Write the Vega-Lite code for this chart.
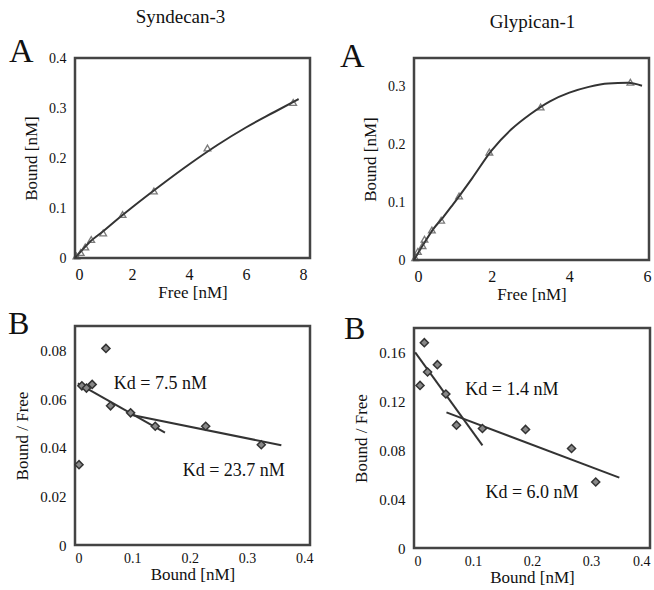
{
  "$schema": "https://vega.github.io/schema/vega-lite/v6.json",
  "background": "white",
  "padding": {"left": 6, "top": 7, "right": 5, "bottom": 0},
  "config": {
    "view": {"stroke": "#444", "strokeWidth": 2.5},
    "font": "Liberation Serif, Times New Roman, DejaVu Serif, serif",
    "axis": {"grid": false, "domain": false, "ticks": false, "labelFont": "Liberation Serif, Times New Roman, DejaVu Serif, serif", "labelFontSize": 15, "labelColor": "#111", "titleFont": "Liberation Serif, Times New Roman, DejaVu Serif, serif", "titleFontSize": 17, "titleFontWeight": "normal", "titleColor": "#111", "format": "~g"},
    "axisY": {"labelPadding": 9, "titlePadding": 8},
    "axisX": {"labelPadding": 8, "titlePadding": 2},
    "title": {"font": "Liberation Serif, Times New Roman, DejaVu Serif, serif", "fontWeight": "normal", "color": "#111"}
  },
  "hconcat": [
    {
      "title": {"text": "Syndecan-3", "fontSize": 19, "anchor": "middle", "frame": "bounds", "dx": 20, "offset": 7},
      "bounds": "flush",
      "spacing": 68,
      "vconcat": [
        {
          "width": 235, "height": 200,
          "title": {"text": "A", "fontSize": 34, "anchor": "start", "frame": "group", "dx": -66, "offset": -45, "baseline": "alphabetic"},
          "layer": [
            {
              "data": {"values": [
                {"free": 0, "bound": 0}, {"free": 0.25, "bound": 0.016}, {"free": 0.5, "bound": 0.031},
                {"free": 1, "bound": 0.054}, {"free": 1.5, "bound": 0.078}, {"free": 2, "bound": 0.101},
                {"free": 3, "bound": 0.145}, {"free": 4, "bound": 0.187}, {"free": 5, "bound": 0.226},
                {"free": 6, "bound": 0.261}, {"free": 7, "bound": 0.292}, {"free": 7.85, "bound": 0.318}
              ]},
              "mark": {"type": "line", "color": "#333", "strokeWidth": 2, "interpolate": "monotone"},
              "encoding": {
                "x": {"field": "free", "type": "quantitative", "scale": {"domain": [0, 8.25], "nice": false}, "axis": {"title": "Free [nM]", "values": [0, 2, 4, 6, 8], "labelFontSize": 16}},
                "y": {"field": "bound", "type": "quantitative", "scale": {"domain": [0, 0.4], "nice": false}, "axis": {"title": "Bound [nM]", "values": [0, 0.1, 0.2, 0.3, 0.4], "labelFontSize": 14}}
              }
            },
            {
              "data": {"values": [
                {"free": 0.05, "bound": 0.004}, {"free": 0.2, "bound": 0.011}, {"free": 0.36, "bound": 0.022},
                {"free": 0.57, "bound": 0.037}, {"free": 0.99, "bound": 0.05}, {"free": 1.67, "bound": 0.087},
                {"free": 2.77, "bound": 0.134}, {"free": 4.65, "bound": 0.22}, {"free": 7.66, "bound": 0.311}
              ]},
              "mark": {"type": "point", "shape": "triangle-up", "filled": false, "stroke": "#444", "strokeWidth": 1.3, "size": 45},
              "encoding": {
                "x": {"field": "free", "type": "quantitative"},
                "y": {"field": "bound", "type": "quantitative"}
              }
            }
          ]
        },
        {
          "width": 235, "height": 219,
          "title": {"text": "B", "fontSize": 32, "anchor": "start", "frame": "group", "dx": -67, "offset": -40, "baseline": "alphabetic"},
          "layer": [
            {
              "data": {"values": [
                {"bound": 0.005, "ratio": 0.0664, "seg": "high"}, {"bound": 0.157, "ratio": 0.0462, "seg": "high"},
                {"bound": 0.095, "ratio": 0.0536, "seg": "low"}, {"bound": 0.36, "ratio": 0.041, "seg": "low"}
              ]},
              "mark": {"type": "line", "color": "#333", "strokeWidth": 2},
              "encoding": {
                "x": {"field": "bound", "type": "quantitative", "scale": {"domain": [0, 0.41], "nice": false}, "axis": {"title": "Bound [nM]", "values": [0, 0.1, 0.2, 0.3, 0.4], "labelPadding": 6, "titlePadding": 1, "labelFontSize": 14}},
                "y": {"field": "ratio", "type": "quantitative", "scale": {"domain": [0, 0.09], "nice": false}, "axis": {"title": "Bound / Free", "values": [0, 0.02, 0.04, 0.06, 0.08]}},
                "detail": {"field": "seg"}
              }
            },
            {
              "data": {"values": [
                {"bound": 0.007, "ratio": 0.033}, {"bound": 0.012, "ratio": 0.0654}, {"bound": 0.02, "ratio": 0.0645},
                {"bound": 0.03, "ratio": 0.066}, {"bound": 0.054, "ratio": 0.0808}, {"bound": 0.062, "ratio": 0.0572},
                {"bound": 0.097, "ratio": 0.0543}, {"bound": 0.14, "ratio": 0.0488}, {"bound": 0.228, "ratio": 0.0488},
                {"bound": 0.325, "ratio": 0.0412}
              ]},
              "mark": {"type": "point", "shape": "diamond", "filled": true, "fill": "#888", "stroke": "#333", "strokeWidth": 1.5, "size": 65, "opacity": 1},
              "encoding": {
                "x": {"field": "bound", "type": "quantitative"},
                "y": {"field": "ratio", "type": "quantitative"}
              }
            },
            {
              "data": {"values": [
                {"bound": 0.149, "ratio": 0.066, "label": "Kd = 7.5 nM"},
                {"bound": 0.277, "ratio": 0.0303, "label": "Kd = 23.7 nM"}
              ]},
              "mark": {"type": "text", "font": "Liberation Serif, Times New Roman, DejaVu Serif, serif", "fontSize": 18, "color": "#111", "align": "center", "baseline": "middle"},
              "encoding": {
                "x": {"field": "bound", "type": "quantitative"},
                "y": {"field": "ratio", "type": "quantitative"},
                "text": {"field": "label"}
              }
            }
          ]
        }
      ]
    },
    {
      "title": {"text": "Glypican-1", "fontSize": 19, "anchor": "middle", "frame": "bounds", "dx": 37, "offset": 7},
      "bounds": "flush",
      "spacing": 68,
      "vconcat": [
        {
          "width": 235, "height": 202,
          "title": {"text": "A", "fontSize": 34, "anchor": "start", "frame": "group", "dx": -74, "offset": -43, "baseline": "alphabetic"},
          "layer": [
            {
              "data": {"values": [
                {"free": 0, "bound": 0}, {"free": 0.25, "bound": 0.028}, {"free": 0.5, "bound": 0.054},
                {"free": 0.75, "bound": 0.074}, {"free": 1, "bound": 0.096}, {"free": 1.5, "bound": 0.142},
                {"free": 2, "bound": 0.19}, {"free": 2.5, "bound": 0.226}, {"free": 3, "bound": 0.253},
                {"free": 3.5, "bound": 0.275}, {"free": 4, "bound": 0.29}, {"free": 4.5, "bound": 0.3},
                {"free": 5, "bound": 0.306}, {"free": 5.5, "bound": 0.307}, {"free": 5.87, "bound": 0.302}
              ]},
              "mark": {"type": "line", "color": "#333", "strokeWidth": 2, "interpolate": "monotone"},
              "encoding": {
                "x": {"field": "free", "type": "quantitative", "scale": {"domain": [0, 6.05], "nice": false}, "axis": {"title": "Free [nM]", "values": [0, 2, 4, 6], "labelFontSize": 16}},
                "y": {"field": "bound", "type": "quantitative", "scale": {"domain": [0, 0.35], "nice": false}, "axis": {"title": "Bound [nM]", "values": [0, 0.1, 0.2, 0.3], "labelFontSize": 14}}
              }
            },
            {
              "data": {"values": [
                {"free": 0.03, "bound": 0.004}, {"free": 0.1, "bound": 0.015}, {"free": 0.22, "bound": 0.025},
                {"free": 0.27, "bound": 0.036}, {"free": 0.46, "bound": 0.052}, {"free": 0.7, "bound": 0.069},
                {"free": 1.16, "bound": 0.111}, {"free": 1.94, "bound": 0.187}, {"free": 3.26, "bound": 0.265},
                {"free": 5.57, "bound": 0.308}
              ]},
              "mark": {"type": "point", "shape": "triangle-up", "filled": false, "stroke": "#444", "strokeWidth": 1.3, "size": 45},
              "encoding": {
                "x": {"field": "free", "type": "quantitative"},
                "y": {"field": "bound", "type": "quantitative"}
              }
            }
          ]
        },
        {
          "width": 236, "height": 220,
          "title": {"text": "B", "fontSize": 32, "anchor": "start", "frame": "group", "dx": -70, "offset": -43, "baseline": "alphabetic"},
          "layer": [
            {
              "data": {"values": [
                {"bound": 0.002, "ratio": 0.16, "seg": "high"}, {"bound": 0.116, "ratio": 0.084, "seg": "high"},
                {"bound": 0.055, "ratio": 0.111, "seg": "low"}, {"bound": 0.348, "ratio": 0.0576, "seg": "low"}
              ]},
              "mark": {"type": "line", "color": "#333", "strokeWidth": 2},
              "encoding": {
                "x": {"field": "bound", "type": "quantitative", "scale": {"domain": [0, 0.4], "nice": false}, "axis": {"title": "Bound [nM]", "values": [0, 0.1, 0.2, 0.3, 0.4], "labelPadding": 6, "titlePadding": 1, "labelFontSize": 14}},
                "y": {"field": "ratio", "type": "quantitative", "scale": {"domain": [0, 0.18], "nice": false}, "axis": {"title": "Bound / Free", "values": [0, 0.04, 0.08, 0.12, 0.16]}},
                "detail": {"field": "seg"}
              }
            },
            {
              "data": {"values": [
                {"bound": 0.0102, "ratio": 0.133}, {"bound": 0.0175, "ratio": 0.168}, {"bound": 0.023, "ratio": 0.144},
                {"bound": 0.0396, "ratio": 0.15}, {"bound": 0.054, "ratio": 0.126}, {"bound": 0.072, "ratio": 0.1005},
                {"bound": 0.116, "ratio": 0.0978}, {"bound": 0.189, "ratio": 0.097}, {"bound": 0.267, "ratio": 0.0814},
                {"bound": 0.308, "ratio": 0.054}
              ]},
              "mark": {"type": "point", "shape": "diamond", "filled": true, "fill": "#888", "stroke": "#333", "strokeWidth": 1.5, "size": 65, "opacity": 1},
              "encoding": {
                "x": {"field": "bound", "type": "quantitative"},
                "y": {"field": "ratio", "type": "quantitative"}
              }
            },
            {
              "data": {"values": [
                {"bound": 0.166, "ratio": 0.129, "label": "Kd = 1.4 nM"},
                {"bound": 0.2, "ratio": 0.0454, "label": "Kd = 6.0 nM"}
              ]},
              "mark": {"type": "text", "font": "Liberation Serif, Times New Roman, DejaVu Serif, serif", "fontSize": 18, "color": "#111", "align": "center", "baseline": "middle"},
              "encoding": {
                "x": {"field": "bound", "type": "quantitative"},
                "y": {"field": "ratio", "type": "quantitative"},
                "text": {"field": "label"}
              }
            }
          ]
        }
      ]
    }
  ],
  "spacing": 23
}
